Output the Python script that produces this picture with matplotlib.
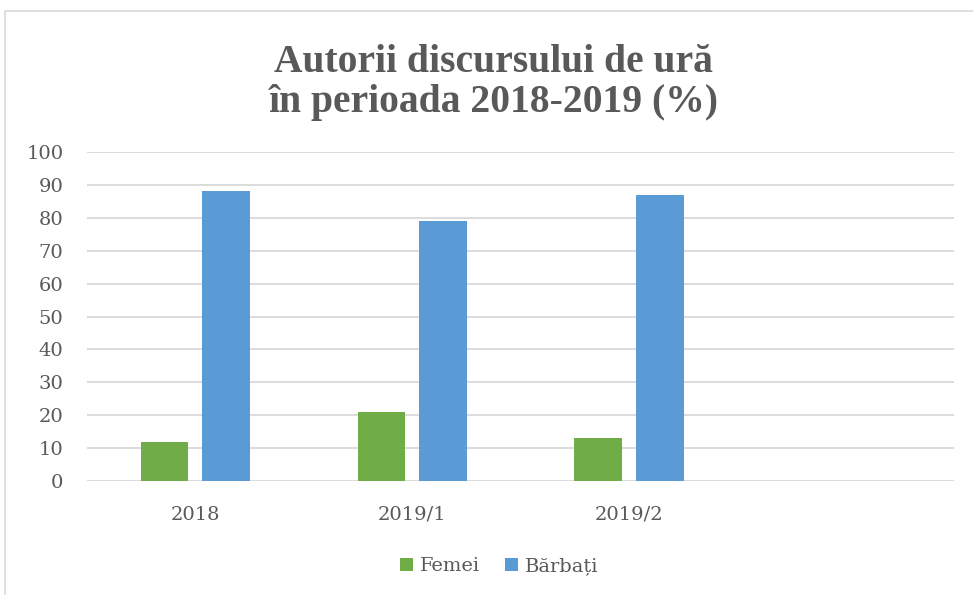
import numpy as np
import matplotlib.pyplot as plt
from matplotlib.patches import Rectangle

# ---------------------------------------------------------
# data
# ---------------------------------------------------------
categories = ['2018', '2019/1', '2019/2']
femei = [12, 21, 13]
barbati = [88, 79, 87]
yticks = list(range(0, 101, 10))

GREEN = '#70AD47'
BLUE = '#5B9BD5'
TEXT = '#595959'
GRID = '#D9D9D9'
TITLE_FONT = ['Liberation Serif', 'DejaVu Serif']
LABEL_FONT = ['DejaVu Serif']

fig = plt.figure(figsize=(9.73, 5.95), dpi=100)
ax = fig.add_axes([0.0894, 0.1916, 0.8911, 0.5529])

# light frame of the chart area
fig.patches.append(Rectangle((5 / 973, -0.1), 1.2, 1 - 11 / 595 + 0.1,
                             transform=fig.transFigure, fill=False,
                             edgecolor=GRID, linewidth=1.2))

x = np.arange(len(categories))
w = 0.22
ax.bar(x - 0.142, femei, w, color=GREEN, label='Femei', zorder=3)
ax.bar(x + 0.142, barbati, w, color=BLUE, label='Bărbați', zorder=3)

ax.set_xlim(-0.5, 3.5)
ax.set_ylim(0, 100)
ax.set_yticks(yticks)
ax.set_xticks(x)
ax.set_xticklabels(categories)
ax.grid(axis='y', color=GRID, linewidth=1.3, zorder=0)
for s in ax.spines.values():
    s.set_visible(False)
ax.tick_params(length=0, labelcolor=TEXT, labelsize=14)
ax.tick_params(axis='x', pad=18)
ax.tick_params(axis='y', pad=17)
for lbl in ax.get_xticklabels() + ax.get_yticklabels():
    lbl.set_family(LABEL_FONT)

fig.text(0.507, 0.862, 'Autorii discursului de ură\nîn perioada 2018-2019 (%)',
         ha='center', va='center', fontsize=28.5, fontweight='bold',
         color=TEXT, family=TITLE_FONT, linespacing=1.1)

leg = fig.legend(loc='center', bbox_to_anchor=(0.513, 0.048), ncol=2,
                 frameon=False, handlelength=0.65, handleheight=0.65,
                 handletextpad=0.35, columnspacing=1.3,
                 prop={'family': LABEL_FONT, 'size': 14})
for t in leg.get_texts():
    t.set_color(TEXT)

fig.savefig('out.png', dpi=100)
